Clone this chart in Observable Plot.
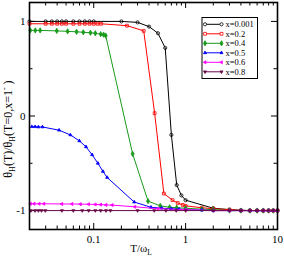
<!DOCTYPE html>
<html><head><meta charset="utf-8">
<script src="https://cdn.jsdelivr.net/npm/d3@7"></script>
<script src="https://cdn.jsdelivr.net/npm/@observablehq/plot@0.6"></script>
<style>body{margin:0;background:#fff} svg{display:block}</style>
</head><body><div id="chart"></div>
<script>
// ---- data ----
const seriesNames = ["x=0.001","x=0.2","x=0.4","x=0.5","x=0.6","x=0.8"];
const seriesColors = ["#000000","#ff0000","#1a9a1a","#0000ff","#ff00ff","#670748"];

const T_a = [0.02,0.03,0.035,0.04,0.045,0.05,0.06,0.07,0.08,0.09,0.1,0.2,0.3,0.4,0.5,0.6,0.7,0.8,0.9,1.0,2,3,4,5,6,7,8,9,10];
const V_a = [1.0,1.0,1.0,1.0,1.0,1.0,1.0,1.0,1.0,1.0,1.0,1.0,0.99,0.945,0.875,0.72,-0.2,-0.73,-0.84,-0.89,-0.975,-0.99,-0.995,-1,-1,-1,-1,-1,-1];

const T_b = [0.02,0.03,0.035,0.04,0.045,0.05,0.06,0.07,0.08,0.09,0.1,0.11,0.12,0.23,0.35,0.46,0.58,0.72,0.82,0.93,1.0,1.5,2,3,4,5,6,7,8,9,10];
const V_b = [0.975,0.975,0.975,0.975,0.975,0.975,0.975,0.975,0.975,0.975,0.975,0.975,0.975,0.955,0.90,0.03,-0.82,-0.89,-0.92,-0.94,-0.95,-0.97,-0.98,-0.99,-1,-1,-1,-1,-1,-1,-1];

const T_c = [0.0204,0.0231,0.0261,0.0396,0.052,0.065,0.077,0.092,0.104,0.119,0.128,0.135,0.265,0.39,0.53,0.67,0.8,1.0,1.5,2,3,4,5,6,7,8,9,10];
const V_c = [0.905,0.905,0.905,0.9,0.895,0.89,0.885,0.88,0.875,0.865,0.86,0.85,-0.40,-0.90,-0.95,-0.965,-0.97,-0.975,-0.985,-0.99,-1,-1,-1,-1,-1,-1,-1,-1];

const T_d = [0.0212,0.023,0.025,0.0277,0.042,0.0557,0.0698,0.0824,0.096,0.111,0.126,0.14,0.276,0.42,0.55,0.7,0.85,1.0,1.5,2,3,4,5,6,7,8,9,10];
const V_d = [-0.113,-0.113,-0.116,-0.116,-0.15,-0.2,-0.263,-0.326,-0.41,-0.50,-0.586,-0.65,-0.91,-0.965,-0.975,-0.98,-0.985,-0.99,-0.995,-1,-1,-1,-1,-1,-1,-1,-1,-1];

const T_e = [0.0205,0.0225,0.0255,0.0287,0.045,0.058,0.0716,0.088,0.104,0.119,0.136,0.159,0.28,0.5,1.0,2,3,4,5,6,7,8,9,10];
const V_e = [-0.928,-0.928,-0.928,-0.928,-0.93,-0.93,-0.932,-0.933,-0.935,-0.937,-0.94,-0.942,-0.96,-0.98,-0.99,-1,-1,-1,-1,-1,-1,-1,-1,-1];

const T_f = [0.0207,0.023,0.025,0.027,0.0297,0.045,0.06,0.075,0.088,0.104,0.119,0.136,0.152,0.3,0.456,0.61,0.79,1.0,2,3,4,5,6,7,8,9,10];
const V_f = [-1,-1,-1,-1,-1,-1,-1,-1,-1,-1,-1,-1,-1,-1,-1,-1,-1,-1,-1,-1,-1,-1,-1,-1,-1,-1,-1];

const xMajor = [0.1, 1, 10];
const xMinor = [0.02,0.03,0.04,0.05,0.06,0.07,0.08,0.09,0.2,0.3,0.4,0.5,0.6,0.7,0.8,0.9,2,3,4,5,6,7,8,9];
const yMajor = [-1, 0, 1];
const yMinor = [-0.5, 0.5];

// ---- symbols ----
function triSym(rot){
  return {draw(ctx, size){
    const r = Math.sqrt(size/Math.PI)*1.1;
    for(let i=0;i<3;i++){
      const a = rot + i*2*Math.PI/3;
      const px = r*Math.sin(a), py = -r*Math.cos(a);
      if(i===0) ctx.moveTo(px,py); else ctx.lineTo(px,py);
    }
    ctx.closePath();
  }};
}
const symUp = triSym(0), symDown = triSym(Math.PI), symLeft = triSym(-Math.PI/2);
const seriesSymbols = [d3.symbolCircle, d3.symbolSquare, d3.symbolDiamond, symUp, symLeft, symDown];
const seriesFilled = [false, false, true, true, true, true];
const markR = 1.6;

const Ts = [T_a,T_b,T_c,T_d,T_e,T_f];
const Vs = [V_a,V_b,V_c,V_d,V_e,V_f];

const W = 284, H = 259, mL = 29, mR = 7, mT = 2, mB = 30;
const fw = W - mL - mR, fh = H - mT - mB;
const majLen = 6, minLen = 3.5;

const marks = [];
// ticks (inward) on all four sides
marks.push(Plot.ruleX(xMajor, {x: d=>d, insetTop: fh-majLen, stroke:"black"}));
marks.push(Plot.ruleX(xMinor, {x: d=>d, insetTop: fh-minLen, stroke:"black"}));
marks.push(Plot.ruleX(xMajor, {x: d=>d, insetBottom: fh-majLen, stroke:"black"}));
marks.push(Plot.ruleX(xMinor, {x: d=>d, insetBottom: fh-minLen, stroke:"black"}));
marks.push(Plot.ruleY(yMajor, {y: d=>d, insetRight: fw-majLen, stroke:"black"}));
marks.push(Plot.ruleY(yMinor, {y: d=>d, insetRight: fw-minLen, stroke:"black"}));
marks.push(Plot.ruleY(yMajor, {y: d=>d, insetLeft: fw-majLen, stroke:"black"}));
marks.push(Plot.ruleY(yMinor, {y: d=>d, insetLeft: fw-minLen, stroke:"black"}));

for(let i=0;i<6;i++){
  const rows = Ts[i].map((t,j)=>({T:t, v:Vs[i][j]}));
  marks.push(Plot.line(rows, {x:"T", y:"v", stroke: seriesColors[i], strokeWidth: 1}));
  marks.push(Plot.dot(rows, {x:"T", y:"v", r: markR, symbol: seriesSymbols[i],
    stroke: seriesColors[i], strokeWidth: 0.8,
    fill: seriesFilled[i] ? seriesColors[i] : "none"}));
}

marks.push(Plot.axisX({ticks: xMajor, tickSize: 0, tickPadding: 6, tickFormat: d=>String(d), label: null, fontSize: 11}));
marks.push(Plot.axisY({ticks: yMajor, tickSize: 0, tickPadding: 4, tickFormat: d=>String(d), label: null, fontSize: 11}));
marks.push(Plot.frame({stroke:"black", strokeWidth: 1.6}));

const chart = Plot.plot({
  width: W, height: H,
  marginLeft: mL, marginRight: mR, marginTop: mT, marginBottom: mB,
  style: {fontFamily: "'Liberation Serif', 'Times New Roman', serif", background: "white", color: "black"},
  x: {type: "log", domain: [0.02, 10]},
  y: {domain: [-1.2, 1.2]},
  marks
});
document.getElementById("chart").appendChild(chart);

// ---- axis titles and legend ----
const svg = d3.select(chart);
const xl = svg.append("text").attr("x", 141).attr("y", 252)
  .attr("font-size", 11).attr("fill","black");
xl.append("tspan").text("T/ω");
xl.append("tspan").attr("dy", 3).attr("font-size", 7.5).text("L");

const yl = svg.append("text").attr("transform","translate(12,129) rotate(-90)")
  .attr("text-anchor","middle").attr("font-size", 12).attr("fill","black");
yl.append("tspan").text("θ");
yl.append("tspan").attr("dy", 3).attr("font-size", 8).text("H");
yl.append("tspan").attr("dy", -3).text("(T)/θ");
yl.append("tspan").attr("dy", 3).attr("font-size", 8).text("H");
yl.append("tspan").attr("dy", -3).text("(T=0,x=1");
yl.append("tspan").attr("dy", -5).attr("font-size", 8).text("-");
yl.append("tspan").attr("dy", 5).text(" )");

const lg = svg.append("g");
lg.append("rect").attr("x", 202).attr("y", 17.5).attr("width", 55.5).attr("height", 61)
  .attr("fill","white").attr("stroke","black").attr("stroke-width", 1);
seriesNames.forEach((name,i)=>{
  const y = 24.3 + i*9.5;
  lg.append("line").attr("x1", 205).attr("x2", 221.5).attr("y1", y).attr("y2", y)
    .attr("stroke", seriesColors[i]).attr("stroke-width", 1);
  [205, 221.5].forEach(x=>{
    lg.append("path").attr("transform", `translate(${x},${y})`)
      .attr("d", d3.symbol().type(seriesSymbols[i]).size(markR*markR*Math.PI)())
      .attr("stroke", seriesColors[i]).attr("stroke-width", 0.8)
      .attr("fill", seriesFilled[i] ? seriesColors[i] : "white");
  });
  lg.append("text").attr("x", 225.5).attr("y", y).attr("dy","0.32em")
    .attr("text-anchor","start")
    .attr("font-size", 8.5).attr("fill","black").text(name);
});
</script>
</body></html>
